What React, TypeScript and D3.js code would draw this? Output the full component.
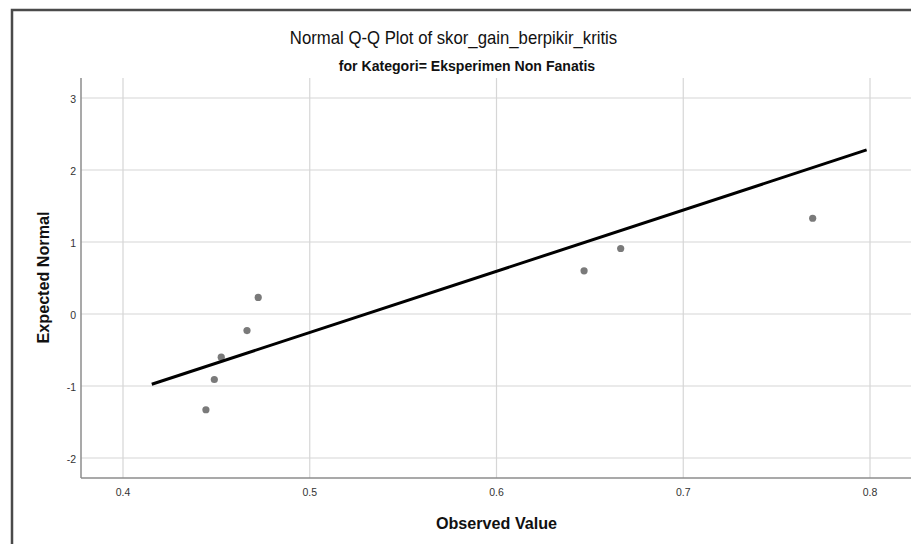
import React from "react";
import * as d3 from "d3";

// observed values and their expected normal scores
const observed = [0.4444, 0.4489, 0.4526, 0.4664, 0.4724, 0.6469, 0.6665, 0.7693];
const expected = [-1.33, -0.91, -0.6, -0.23, 0.23, 0.6, 0.91, 1.33];

// reference line: mean and sd of the sample, drawn over this x range
const lineMean = 0.5302;
const lineSd = 0.1176;
const lineExtent = [0.4154, 0.7982];

const xTicks = [0.4, 0.5, 0.6, 0.7, 0.8];
const yTicks = [-2, -1, 0, 1, 2, 3];

const title = "Normal Q-Q Plot of skor_gain_berpikir_kritis";
const subtitle = "for Kategori= Eksperimen Non Fanatis";
const xLabel = "Observed Value";
const yLabel = "Expected Normal";

const width = 911;
const height = 544;
const plot = { left: 81, right: 924, top: 78, bottom: 478 };
const font = "'Liberation Sans', Arial, sans-serif";

// the original's text is a little narrow, so squeeze it horizontally
const Label = ({ x, y, size, bold = false, squeeze = 0.93, rotate = 0, children }: any) => (
  <text
    transform={`translate(${x}, ${y}) rotate(${rotate}) scale(${squeeze}, 1)`}
    textAnchor="middle"
    fontFamily={font}
    fontSize={size}
    fontWeight={bold ? "bold" : "normal"}
    fill="#111"
  >
    {children}
  </text>
);

export default function App() {
  const x = d3.scaleLinear().domain([0.4, 0.8]).range([123, 870]);
  const y = d3.scaleLinear().domain([0, 3]).range([314, 98]);

  const linePts: [number, number][] = lineExtent.map((v) => [
    x(v),
    y((v - lineMean) / lineSd),
  ]);
  const line = d3.line();

  return (
    <svg
      width={width}
      height={height}
      style={{ position: "fixed", left: 0, top: 0, background: "white" }}
    >
      <rect width={width} height={height} fill="white" />
      {/* outer frame */}
      <path
        d={`M12,${height + 5} L12,10 L${width + 5},10`}
        fill="none"
        stroke="#4a4a4a"
        strokeWidth={2.5}
      />

      <Label x={453.5} y={43.5} size={18}>{title}</Label>
      <Label x={467} y={71} size={15} bold squeeze={0.94}>{subtitle}</Label>

      {/* grid */}
      <g stroke="#d6d6d6" strokeWidth={1.2}>
        {xTicks.map((t) => (
          <line key={t} x1={x(t)} x2={x(t)} y1={plot.top} y2={plot.bottom} />
        ))}
        {yTicks.map((t) => (
          <line key={t} x1={plot.left} x2={plot.right} y1={y(t)} y2={y(t)} />
        ))}
      </g>

      {/* axes */}
      <g stroke="#8c8c8c" strokeWidth={1.5}>
        <line x1={plot.left} x2={plot.left} y1={plot.top} y2={plot.bottom} />
        <line x1={plot.left} x2={plot.right} y1={plot.bottom} y2={plot.bottom} />
      </g>

      <g fontFamily={font} fontSize={10.5} fill="#333">
        {yTicks.map((t) => (
          <text key={t} x={76} y={y(t) + 5} textAnchor="end">
            {t}
          </text>
        ))}
        {xTicks.map((t) => (
          <text key={t} x={x(t)} y={495.5} textAnchor="middle">
            {d3.format(".1f")(t)}
          </text>
        ))}
      </g>

      <Label x={496.5} y={529} size={17} bold squeeze={0.95}>{xLabel}</Label>
      <Label x={49} y={277.5} size={17} bold squeeze={0.95} rotate={-90}>{yLabel}</Label>

      {/* points */}
      {observed.map((v, i) => (
        <circle key={i} cx={x(v)} cy={y(expected[i])} r={3.6} fill="#7a7a7a" />
      ))}

      {/* normal line */}
      <path d={line(linePts) ?? ""} fill="none" stroke="#000" strokeWidth={3} />
    </svg>
  );
}
